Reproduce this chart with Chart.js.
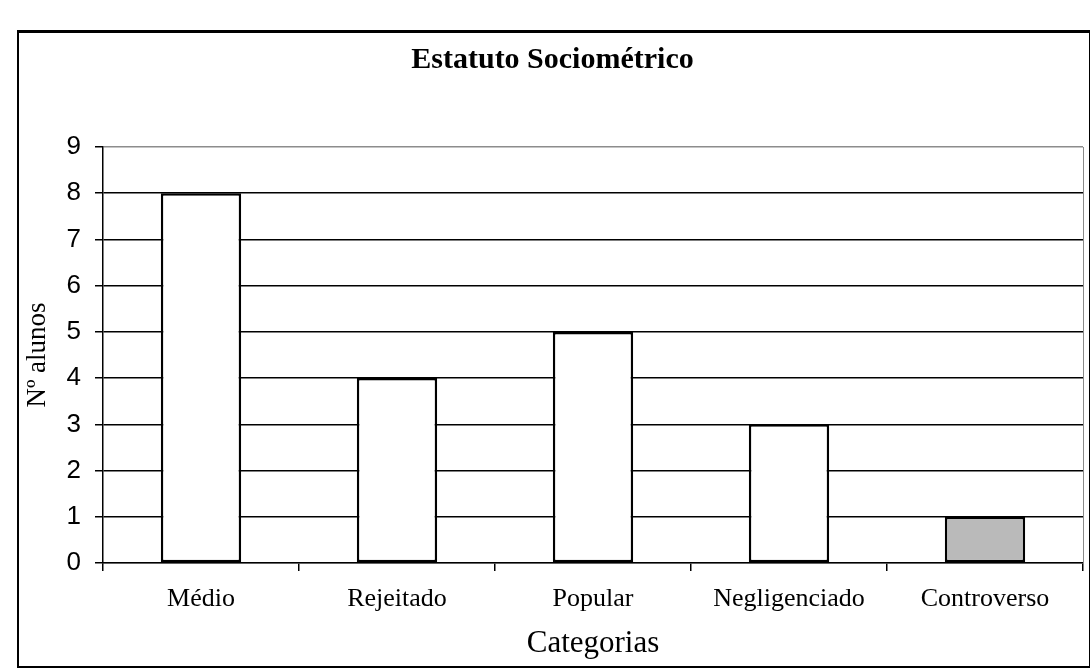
<!DOCTYPE html>
<html>
<head>
<meta charset="utf-8">
<script src="https://cdn.jsdelivr.net/npm/chart.js@4.4.1/dist/chart.umd.min.js"></script>
<style>
  html, body { margin: 0; padding: 0; background: #fff; width: 1092px; height: 672px; overflow: hidden; position: relative; }
  #c { position: absolute; left: 0; top: 0; display: block; }
  #frame { position: absolute; left: 17px; top: 30px; width: 1073px; height: 638px; border: 2px solid #000; border-top-width: 3px; border-right-width: 1px; box-sizing: border-box; pointer-events: none; }
</style>
</head>
<body>
<canvas id="c" width="1092" height="672"></canvas>
<div id="frame"></div>
<script>
const categories = ["Médio", "Rejeitado", "Popular", "Negligenciado", "Controverso"];
const values = [8, 4, 5, 3, 1];
const barFills = ["#ffffff", "#ffffff", "#ffffff", "#ffffff", "#bababa"];
const yTicks = [0, 1, 2, 3, 4, 5, 6, 7, 8, 9];
const chartTitle = "Estatuto Sociométrico";
const yTitle = "Nº alunos";
const xTitle = "Categorias";

new Chart(document.getElementById("c"), {
  type: "bar",
  data: {
    labels: categories,
    datasets: [{
      data: values,
      backgroundColor: barFills,
      borderColor: "#000",
      borderWidth: 2.5,
      borderSkipped: false,
      categoryPercentage: 1,
      barPercentage: 0.41
    }]
  },
  options: {
    responsive: false,
    animation: false,
    layout: { padding: { top: 0, right: 9, left: 22, bottom: 10 } },
    plugins: {
      legend: { display: false },
      tooltip: { enabled: false },
      title: {
        display: true,
        text: chartTitle,
        color: "#000",
        font: { family: "Liberation Serif", size: 30, weight: "bold", lineHeight: 1.2 },
        padding: { top: 42, bottom: 69 }
      }
    },
    scales: {
      x: {
        offset: true,
        afterFit: (a) => { a.height = 99; },
        grid: { display: true, drawOnChartArea: false, drawTicks: true, tickLength: 8, color: "#000", lineWidth: 1.5, offset: true },
        border: { display: true, color: "#000", width: 1.5 },
        ticks: { color: "#000", font: { family: "Liberation Serif", size: 26, lineHeight: 1.2 }, padding: 13, maxRotation: 0 },
        title: { display: true, text: xTitle, color: "#000", font: { family: "Liberation Serif", size: 31, lineHeight: 1.2 }, padding: { top: 9, bottom: 0 } }
      },
      y: {
        min: 0, max: 9,
        afterFit: (a) => { a.width = 81; },
        afterBuildTicks: (axis) => { axis.ticks = yTicks.map(v => ({ value: v })); },
        grid: {
          color: (ctx) => (ctx.tick && (ctx.tick.value === 0 || ctx.tick.value === 9)) ? "#8c8c8c" : "#000",
          lineWidth: 1.5,
          tickLength: 8,
          drawTicks: true,
          tickColor: "#000"
        },
        border: { display: true, color: "#000", width: 1.5 },
        ticks: { color: "#000", font: { family: "Liberation Sans", size: 26, lineHeight: 1.2 }, padding: 14 },
        title: { display: true, text: yTitle, color: "#000", font: { family: "Liberation Serif", size: 27, lineHeight: 1.2 }, padding: { top: 0, bottom: 10 } }
      },
      y2: {
        position: "right",
        min: 0, max: 9,
        afterFit: (a) => { a.width = 0; },
        grid: { display: false, drawTicks: false },
        ticks: { display: false },
        border: { display: true, color: "#8a8a8a", width: 1, dash: [2, 2] }
      }
    }
  }
});
</script>
</body>
</html>
